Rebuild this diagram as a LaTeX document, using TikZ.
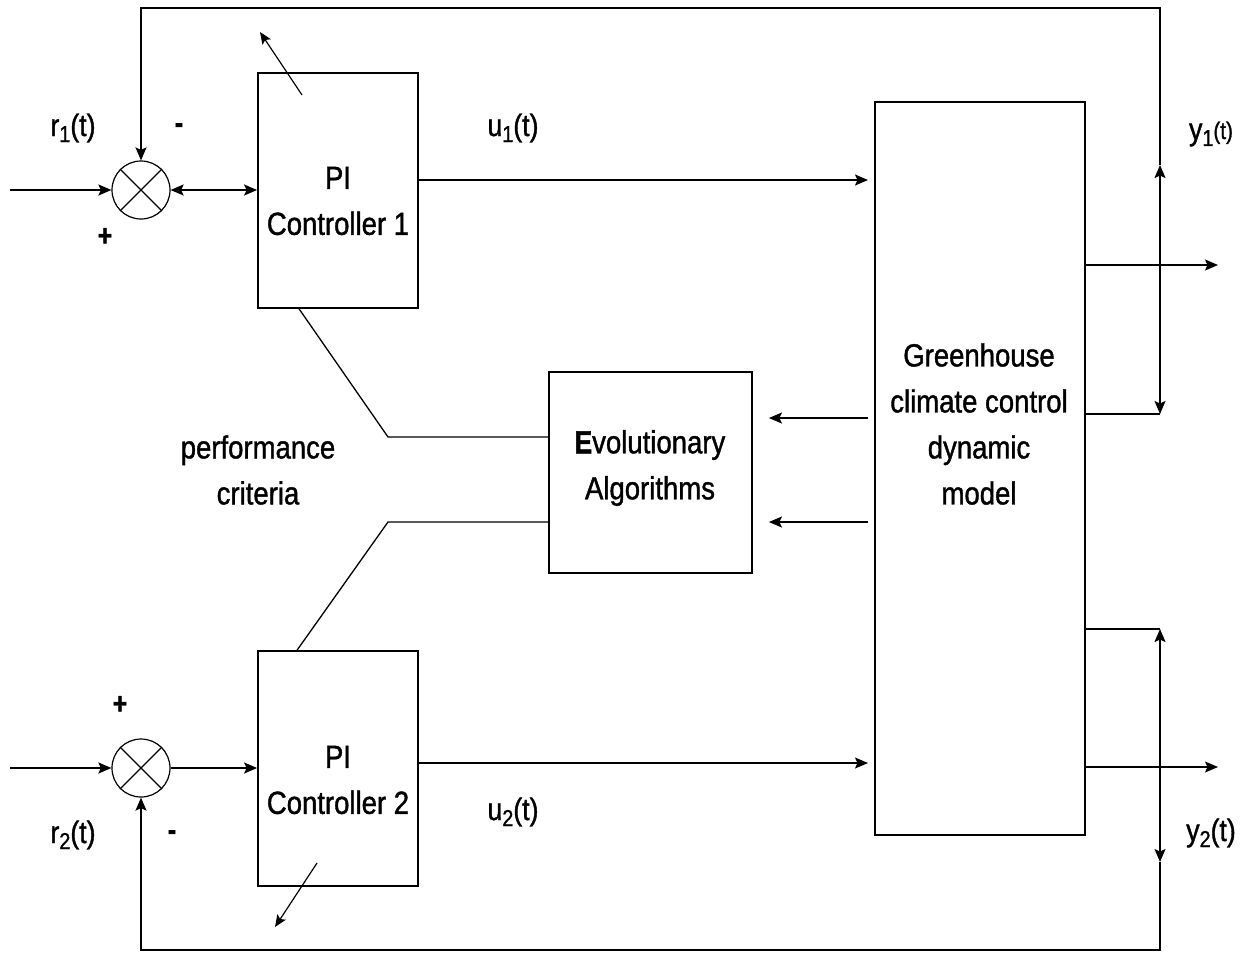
\documentclass[tikz,border=0pt]{standalone}
\usepackage{fontspec}
\setmainfont{Liberation Sans}[FakeStretch=0.86,FakeBold=1.2,BoldFeatures={FakeStretch=0.82,FakeBold=1.5}]
\usetikzlibrary{arrows.meta}
\newcommand\mysub[1]{\raisebox{-6pt}{\fontsize{23}{23}\selectfont #1}}
\newcommand\smallt{\raisebox{1pt}{\fontsize{24}{24}\selectfont (t)}}
\begin{document}
\begin{tikzpicture}[x=1pt,y=-1pt, line width=1.7pt,
  >={Stealth[length=13pt,width=11pt,inset=2.5pt]},
  blk/.style={draw, line width=1.8pt, inner sep=0pt},
  txt/.style={align=center, inner sep=0pt, font=\fontsize{32}{46}\selectfont},
  lbl/.style={inner sep=0pt, font=\fontsize{31}{36}\selectfont},
  sgn/.style={inner sep=0pt, font=\bfseries\fontsize{30}{30}\selectfont},
  sumj/.style={draw, circle, line width=1.2pt, minimum size=58pt, inner sep=0pt},
  thinarr/.style={line width=1.2pt, -{Stealth[length=12pt,width=10pt,inset=2.5pt]}}
]
\useasboundingbox (0,0) rectangle (1249,954);
\fill[white] (0,0) rectangle (1249,954);

% blocks
\node[blk, minimum width=160pt, minimum height=235pt] (pi1) at (338,190.5) {};
\node[blk, minimum width=160pt, minimum height=235pt] (pi2) at (338,768.5) {};
\node[blk, minimum width=203pt, minimum height=201pt] (ea) at (650.5,472.5) {};
\node[blk, minimum width=210pt, minimum height=733pt] (gh) at (980,468.5) {};

\node[txt] (pi1t) at (338,201) {PI\\Controller 1};
\node[txt] (pi2t) at (338,780) {PI\\Controller 2};
\node[txt] (eat) at (650,468) {{\bfseries E}volutionary\\Algorithms};
\node[txt] (ght) at (979,424) {Greenhouse\\climate control\\dynamic\\model};
\node[txt] (perf) at (258,470) {performance\\criteria};

% summing junctions
\node[sumj] (s1) at (141,190) {};
\draw[line width=1.1pt] (s1.north west) -- (s1.south east) (s1.north east) -- (s1.south west);
\node[sumj] (s2) at (141,768) {};
\draw[line width=1.1pt] (s2.north west) -- (s2.south east) (s2.north east) -- (s2.south west);

% labels
\node[lbl] (r1) at (73,128) {r\mysub{1}(t)};
\node[lbl] (r2) at (73,835) {r\mysub{2}(t)};
\node[lbl] (u1) at (513,128) {u\mysub{1}(t)};
\node[lbl] (u2) at (513,812) {u\mysub{2}(t)};
\node[lbl] (y1) at (1211,134) {y\mysub{1}\smallt};
\node[lbl] (y2) at (1211,833) {y\mysub{2}(t)};
\node[sgn] (m1) at (179,128) {-};
\node[sgn] (p1) at (105,237) {+};
\node[sgn] (p2) at (120,705) {+};
\node[sgn] (m2) at (172,835) {-};

% coordinates
\coordinate (in1) at (10,190);
\coordinate (in2) at (10,768);
\coordinate (u1end) at (868,180);
\coordinate (u2end) at (868,763);
\coordinate (tr) at (1160,8);
\coordinate (y1up) at (1160,165);
\coordinate (y1dn) at (1160,414);
\coordinate (y1out) at (1218,265);
\coordinate (y2up) at (1160,629);
\coordinate (y2dn) at (1160,862);
\coordinate (br) at (1160,950);
\coordinate (y2out) at (1218,767);
\coordinate (g1) at (868,418);
\coordinate (g2) at (868,522);
\coordinate (k1) at (388,437);
\coordinate (k2) at (388,522);
\coordinate (t1a) at (302,95);
\coordinate (t1b) at (260,32);
\coordinate (t2a) at (317,863);
\coordinate (t2b) at (275,927);

% loop 1
\draw[->] (in1) -- (s1.west);
\draw[<->] (s1.east) -- (pi1.west |- s1.east);
\draw[->] (pi1.east |- u1end) -- (u1end);
\draw[->] (y1up) -- (tr) -- (s1.north |- tr) -- (s1.north);
\draw[<->] (y1up) -- (y1dn);
\draw (gh.east |- y1dn) -- (y1dn);
\draw[->] (gh.east |- y1out) -- (y1out);

% loop 2
\draw[->] (in2) -- (s2.west);
\draw[->] (s2.east) -- (pi2.west |- s2.east);
\draw[->] (pi2.east |- u2end) -- (u2end);
\draw (gh.east |- y2up) -- (y2up);
\draw[<->] (y2up) -- (y2dn);
\draw[->] (y2dn) -- (br) -- (s2.south |- br) -- (s2.south);
\draw[->] (gh.east |- y2out) -- (y2out);

% greenhouse to EA
\draw[->, shorten >=16pt] (g1) -- (ea.east |- g1);
\draw[->, shorten >=16pt] (g2) -- (ea.east |- g2);

% EA to controllers
\draw[line width=1.3pt] (ea.west |- k1) -- (k1) -- ([xshift=42pt]pi1.south west);
\draw[line width=1.3pt] (ea.west |- k2) -- (k2) -- ([xshift=40pt]pi2.north west);

% tuning arrows
\draw[thinarr] (t1a) -- (t1b);
\draw[thinarr] (t2a) -- (t2b);
\end{tikzpicture}
\end{document}
